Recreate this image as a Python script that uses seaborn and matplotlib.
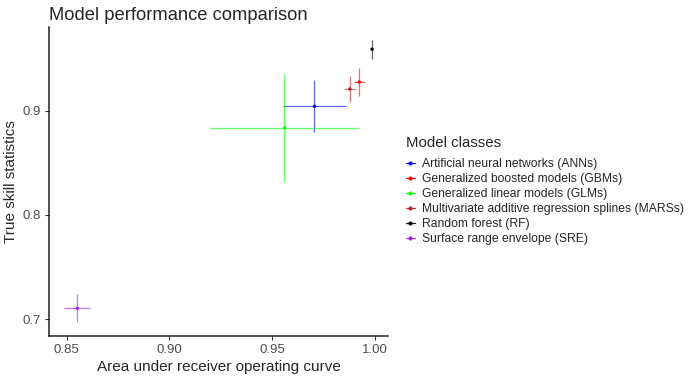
import seaborn as sns
import matplotlib.pyplot as plt
from matplotlib.lines import Line2D
import pandas as pd

models = ["Artificial neural networks (ANNs)",
          "Generalized boosted models (GBMs)",
          "Generalized linear models (GLMs)",
          "Multivariate additive regression splines (MARSs)",
          "Random forest (RF)",
          "Surface range envelope (SRE)"]
colors = ["#0000FF", "#FF0000", "#00FF00", "#B22222", "#000000", "#A020F0"]

# AUC mean and range
auc = [0.9706, 0.9924, 0.9560, 0.9878, 0.9986, 0.8552]
auc_lo = [0.9552, 0.9896, 0.9198, 0.9851, 0.9981, 0.8488]
auc_hi = [0.9859, 0.9953, 0.9925, 0.9908, 0.9991, 0.8613]
# TSS mean and range
tss = [0.9042, 0.9275, 0.8834, 0.9208, 0.9589, 0.7105]
tss_lo = [0.8799, 0.9144, 0.8319, 0.9086, 0.9493, 0.6977]
tss_hi = [0.9291, 0.9407, 0.9349, 0.9333, 0.9678, 0.7240]

df = pd.DataFrame({"model": models, "auc": auc, "tss": tss,
                   "auc_lo": auc_lo, "auc_hi": auc_hi,
                   "tss_lo": tss_lo, "tss_hi": tss_hi})
palette = dict(zip(models, colors))

sns.set_theme(style="ticks")
plt.rcParams['font.family'] = ['Liberation Sans', 'DejaVu Sans']

fig = plt.figure(figsize=(6.9, 3.81), dpi=100)
ax = fig.add_axes([0.071, 0.119, 0.492, 0.811])

for _, r in df.iterrows():
    c = palette[r["model"]]
    ax.errorbar(r["auc"], r["tss"],
                xerr=[[r["auc"] - r["auc_lo"]], [r["auc_hi"] - r["auc"]]],
                yerr=[[r["tss"] - r["tss_lo"]], [r["tss_hi"] - r["tss"]]],
                fmt="none", ecolor=c, elinewidth=0.9, alpha=0.6, capsize=0)

sns.scatterplot(data=df, x="auc", y="tss", hue="model", palette=palette,
                s=6, edgecolor="none", legend=False, ax=ax, zorder=3)

ax.set_xlim(0.8414, 1.0066)
ax.set_ylim(0.6843, 0.9805)
ax.set_xticks([0.85, 0.90, 0.95, 1.00])
ax.set_xticklabels(["0.85", "0.90", "0.95", "1.00"])
ax.set_yticks([0.7, 0.8, 0.9])
ax.set_yticklabels(["0.7", "0.8", "0.9"])
ax.tick_params(axis="both", labelsize=9.5, colors="#333333", length=3, width=0.8,
               labelcolor="#4D4D4D", pad=3)
for s in ["top", "right"]:
    ax.spines[s].set_visible(False)
for s in ["left", "bottom"]:
    ax.spines[s].set_linewidth(1.1)
    ax.spines[s].set_color("#222222")

ax.set_xlabel("Area under receiver operating curve", fontsize=11, labelpad=3)
ax.set_ylabel("True skill statistics", fontsize=11, labelpad=3)
ax.set_title("Model performance comparison", fontsize=13.2, loc="left", pad=5, x=0.0)

handles = [Line2D([0], [0], color=palette[m], marker="o", markersize=2,
                  linewidth=0.9, alpha=0.9) for m in models]
leg = fig.legend(handles, models, title="Model classes", loc="upper left",
                 bbox_to_anchor=(0.572, 0.672), frameon=False, fontsize=8.7,
                 title_fontsize=10.8, handlelength=0.8, handletextpad=0.6,
                 labelspacing=0.25, alignment="left")
# a little more room between the legend title and the keys
leg._legend_box.sep = 5.8

fig.savefig("out.png", dpi=100)
